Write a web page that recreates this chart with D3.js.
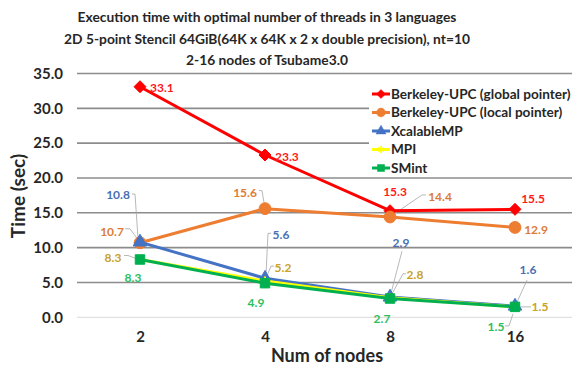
<!DOCTYPE html>
<html><head><meta charset="utf-8">
<script src="https://cdn.jsdelivr.net/npm/d3@7/dist/d3.min.js"></script>
<style>body{margin:0;background:#fff}svg{display:block}text{font-family:Lato,"Open Sans",sans-serif;font-weight:bold}</style>
</head><body><svg id="c" width="573" height="365"></svg>
<script>
const categories = ["2","4","8","16"];
const seriesNames = ["Berkeley-UPC (global pointer)","Berkeley-UPC (local pointer)","XcalableMP","MPI","SMint"];
const upcGlobal = [33.1, 23.3, 15.3, 15.5];
const upcLocal = [10.7, 15.6, 14.4, 12.9];
const xmp = [10.8, 5.6, 2.9, 1.6];
const mpi = [8.3, 5.2, 2.8, 1.5];
const smint = [8.3, 4.9, 2.7, 1.5];
const yTicks = [0,5,10,15,20,25,30,35];
const titleLines = ["Execution time with optimal number of threads in 3 languages","2D 5-point Stencil 64GiB(64K x 64K x 2 x double precision), nt=10","2-16 nodes of Tsubame3.0"];

// styling / layout
const colors = ["#FF0000","#ED7D31","#4472C4","#FFFF00","#00B050"];
const labelColors = ["#FF1A1A","#DD7B36","#4A6FB5","#C9A227","#2DBE5C"];
const squareDiamond = {draw(ctx,size){const r=Math.sqrt(size/2);ctx.moveTo(0,-r);ctx.lineTo(r,0);ctx.lineTo(0,r);ctx.lineTo(-r,0);ctx.closePath();}};
const markers = [squareDiamond, d3.symbolCircle, d3.symbolTriangle, d3.symbolAsterisk, d3.symbolSquare];
const markerSizes = [72, 110, 80, 60, 90];
// label offsets [dx, dy, anchor, leader points relative to data point]
const labelLayout = [
  [[10,1,"start"],[10,2,"start"],[5,-19,"middle"],[18,-11,"middle"]],
  [[-28,-11,"middle",[[-15,-14],[-10,-14],[-2,-3]]],[-20,-16,"middle",[[-6,-18],[-3,-18],[-1,-6]]],[50,-20,"middle",[[36,-22],[32,-22],[4,-3]]],[21,2,"middle"]],
  [[-22,-47,"middle",[[-8,-48],[-5,-48],[-2,-4]]],[16,-43,"middle",[[6,-45],[3,-45],[1,-4]]],[11,-54,"middle",[[12,-46],[1,-4]]],[13,-36,"middle",[[12,-26],[2,-4]]]],
  [[-27,-2,"middle",[[-16,-4],[-12,-4],[-4,-1]]],[18,-13,"middle",[[9,-15],[6,-15],[1,-3]]],[25,-23,"middle",[[16,-24],[13,-24],[2,-4]]],[25,0,"middle",[[6,0],[16,0]]]],
  [[-7,18,"middle"],[-9,20,"middle"],[-8,20,"middle"],[-19,20,"middle",[[-10,19],[-6,19],[-2,7]]]]
];

const svg = d3.select("#c");
const x = d3.scalePoint().domain(categories).range([77.5,577.5]).padding(0.5);
const y = d3.scaleLinear().domain([0,35]).range([317.3,73.5]);

// title
svg.append("g").selectAll("text").data(titleLines).join("text")
  .attr("x",267).attr("y",(d,i)=>22+i*21.5).attr("text-anchor","middle")
  .attr("font-size",13.8).attr("fill","#262626").text(d=>d);

// gridlines
const grid = svg.append("g");
grid.selectAll("line").data(yTicks).join("line")
  .attr("x1",77).attr("x2",572).attr("y1",d=>y(d)).attr("y2",d=>y(d))
  .attr("stroke",d=>d===0?"#d9d9d9":"#8c8c8c").attr("stroke-width",d=>d===0?1:1.6);

// y axis labels
const yAxis = d3.axisLeft(y).tickValues(yTicks).tickFormat(d3.format(".1f")).tickSize(0).tickPadding(0);
const ya = svg.append("g").attr("transform","translate(63,0)").call(yAxis);
ya.select(".domain").remove();
ya.selectAll("text").attr("font-size",15).attr("fill","#262626").attr("font-family","Lato,sans-serif").attr("font-weight","bold");

// x axis labels
const xAxis = d3.axisBottom(x).tickSize(0).tickPadding(0);
const xa = svg.append("g").attr("transform","translate(0,331)").call(xAxis);
xa.select(".domain").remove();
xa.selectAll("text").attr("font-size",15).attr("fill","#262626").attr("font-family","Lato,sans-serif").attr("font-weight","bold");

// axis titles
svg.append("text").attr("transform","translate(25,196) rotate(-90)").attr("text-anchor","middle")
  .attr("font-size",19).attr("fill","#262626").text("Time (sec)");
svg.append("text").attr("x",327).attr("y",362).attr("text-anchor","middle")
  .attr("font-size",18).attr("fill","#262626").text("Num of nodes");

// legend background
svg.append("rect").attr("x",369).attr("y",84).attr("width",204).attr("height",93).attr("fill","#fff");

const allSeries = [upcGlobal, upcLocal, xmp, mpi, smint];
const line = d3.line().x((d,i)=>x(categories[i])).y(d=>y(d));

// leader lines
const leaders = svg.append("g");
allSeries.forEach((vals,s)=>{
  vals.forEach((v,i)=>{
    const L = labelLayout[s][i];
    if (L[3]) {
      const px = x(categories[i]), py = y(v);
      leaders.append("polyline").attr("points",L[3].map(p=>(px+p[0])+","+(py+p[1])).join(" "))
        .attr("fill","none").attr("stroke","#a6a6a6").attr("stroke-width",0.8);
    }
  });
});

allSeries.forEach((vals,s)=>{
  const g = svg.append("g");
  g.append("path").datum(vals).attr("d",line).attr("fill","none").attr("stroke",colors[s]).attr("stroke-width",3).attr("stroke-linejoin","round");
  g.selectAll("path.m").data(vals).join("path").attr("class","m")
    .attr("transform",(d,i)=>`translate(${x(categories[i])},${y(d)})`)
    .attr("d",d3.symbol(markers[s],markerSizes[s]))
    .attr("fill",colors[s]).attr("stroke",colors[s]).attr("stroke-width",s===3?2:1);
});

// data labels
allSeries.forEach((vals,s)=>{
  svg.append("g").selectAll("text").data(vals).join("text")
    .attr("x",(d,i)=>x(categories[i])+labelLayout[s][i][0])
    .attr("y",(d,i)=>y(d)+labelLayout[s][i][1])
    .attr("dy","0.35em")
    .attr("text-anchor",(d,i)=>labelLayout[s][i][2])
    .attr("font-size",12).attr("fill",labelColors[s]).text(d=>d3.format(".1f")(d));
});

// legend
const lg = svg.append("g");
seriesNames.forEach((name,s)=>{
  const yy = 94 + s*18.5;
  lg.append("line").attr("x1",372).attr("x2",390).attr("y1",yy).attr("y2",yy).attr("stroke",colors[s]).attr("stroke-width",3);
  lg.append("path").attr("transform",`translate(381,${yy})`).attr("d",d3.symbol(markers[s],markerSizes[s]*0.55))
    .attr("fill",colors[s]).attr("stroke",colors[s]).attr("stroke-width",s===3?1.5:0.5);
  lg.append("text").attr("x",391).attr("y",yy).attr("dy","0.35em").attr("font-size",13.6).attr("fill","#262626").text(name);
});
</script></body></html>
